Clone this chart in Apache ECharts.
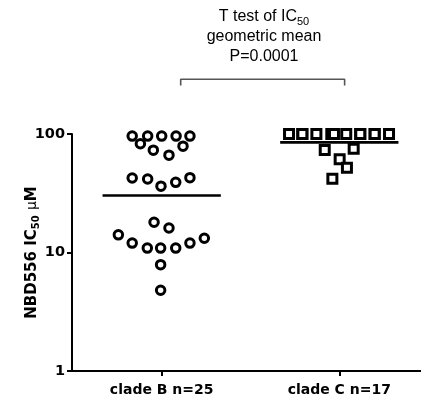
<!DOCTYPE html>
<html><head><meta charset="utf-8">
<script src="https://cdn.jsdelivr.net/npm/echarts@6/dist/echarts.min.js"></script>
<style>html,body{margin:0;padding:0;background:#fff}#c{width:421px;height:400px}</style>
</head><body><div id="c"></div>
<script>
// ---- data ----
const categories = ['clade B n=25', 'clade C n=17'];
const cladeBValues = [96, 96, 96, 96, 96, 82.7, 73.1, 66.3, 79.0, 42.5, 41.7, 36.3, 39.1, 42.8, 18.0, 16.1, 14.1, 12.0, 10.9, 10.9, 10.9, 12.0, 13.2, 7.9, 4.8];
const cladeBJitter = [-0.166, -0.079, 0, 0.081, 0.159, -0.12, -0.047, 0.041, 0.12, -0.166, -0.079, -0.004, 0.079, 0.159, -0.043, 0.041, -0.244, -0.166, -0.081, -0.006, 0.079, 0.159, 0.240, -0.006, -0.006];
const cladeCValues = [100, 100, 100, 100, 100, 100, 100, 100, 100, 100, 100, 100, 73.2, 75.1, 61.1, 51.9, 41.9];
const cladeCJitter = [-0.283, -0.208, -0.129, -0.045, 0.039, 0.118, 0.199, 0.280, -0.03, -0.208, 0.118, 0.199, -0.082, 0.081, 0.002, 0.043, -0.039];
const geoMeans = [30.3, 85];
const yTicks = [1, 10, 100];
const bracketX = [0.107, 1.03];
const bracketY = [256, 290];

// ---- chart ----
const chart = echarts.init(document.getElementById('c'), null, {renderer: 'canvas'});
const halfW = 0.333;
const bData = cladeBValues.map((v, i) => [0 + cladeBJitter[i], v]);
const cData = cladeCValues.map((v, i) => [1 + cladeCJitter[i], v]);
const meanSeries = geoMeans.map((m, i) => ({
  type: 'line', data: [[i - halfW, m], [i + halfW, m]], symbol: 'none', clip: false,
  lineStyle: {color: '#000', width: 2.6}, z: 1, silent: true
}));
chart.setOption({
  animation: false,
  backgroundColor: '#fff',
  title: {
    text: '{a|T test of IC}{s|50}\n{a|geometric mean}\n{a|P=0.0001}',
    left: 259, top: 2, textAlign: 'center',
    textStyle: {
      fontFamily: 'Liberation Sans', fontSize: 16, fontWeight: 'normal', color: '#000',
      rich: {
        a: {fontFamily: 'Liberation Sans', fontSize: 16, lineHeight: 20, color: '#000'},
        s: {fontFamily: 'Liberation Sans', fontSize: 11, lineHeight: 12, verticalAlign: 'bottom', color: '#000'}
      }
    }
  },
  grid: {left: 72, right: 0, top: 134, bottom: 29, containLabel: false},
  xAxis: {
    type: 'value', min: -0.505, max: 1.46,
    axisLine: {show: true, onZero: false, lineStyle: {color: '#000', width: 2}},
    axisTick: {show: true, customValues: [0, 1], length: 5, lineStyle: {color: '#000', width: 2}},
    axisLabel: {show: true, customValues: [0, 1], formatter: v => categories[Math.round(v)], margin: 12,
      fontFamily: 'DejaVu Sans', fontWeight: 'bold', fontSize: 14, color: '#000'},
    splitLine: {show: false}
  },
  yAxis: {
    type: 'log', logBase: 10, min: yTicks[0], max: yTicks[yTicks.length - 1],
    axisLine: {show: true, onZero: false, lineStyle: {color: '#000', width: 2}},
    axisTick: {show: true, length: 5, lineStyle: {color: '#000', width: 2}},
    axisLabel: {margin: 7, fontFamily: 'DejaVu Sans', fontWeight: 'bold', fontSize: 14.5, color: '#000'},
    splitLine: {show: false}, minorTick: {show: false},
    name: '{a|NBD556 IC}{s|50}{a| }{m|μ}{a|M}',
    nameLocation: 'middle', nameGap: 31, nameMoveOverlap: false,
    nameTextStyle: {
      fontFamily: 'DejaVu Sans', fontWeight: 'bold', fontSize: 15, color: '#000',
      rich: {
        a: {fontFamily: 'DejaVu Sans', fontWeight: 'bold', fontSize: 15, lineHeight: 17, color: '#000'},
        s: {fontFamily: 'DejaVu Sans', fontWeight: 'bold', fontSize: 10, lineHeight: 10, verticalAlign: 'bottom', color: '#000'},
        m: {fontFamily: 'DejaVu Sans', fontWeight: 'normal', fontSize: 14, lineHeight: 17, color: '#000'}
      }
    }
  },
  series: [
    ...meanSeries,
    {type: 'scatter', data: bData, symbol: 'circle', symbolSize: 8.5, clip: false, z: 3,
      itemStyle: {color: '#fff', borderColor: '#000', borderWidth: 3, opacity: 1}},
    {type: 'scatter', data: cData, symbol: 'rect', symbolSize: 9, clip: false, z: 3,
      itemStyle: {color: '#fff', borderColor: '#000', borderWidth: 3, opacity: 1}},
    {type: 'line', data: [[bracketX[0], bracketY[0]], [bracketX[0], bracketY[1]], [bracketX[1], bracketY[1]], [bracketX[1], bracketY[0]]],
      symbol: 'none', clip: false, silent: true, lineStyle: {color: '#555', width: 1.6}}
  ]
});
</script></body></html>
